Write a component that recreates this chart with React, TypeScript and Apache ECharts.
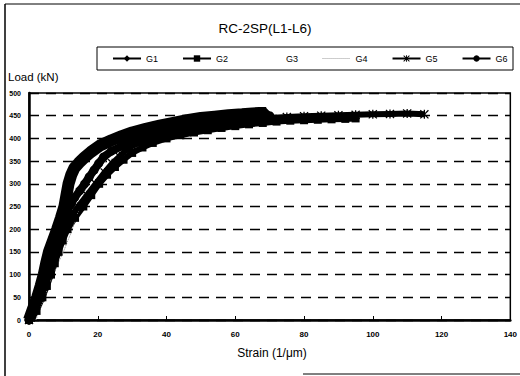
import React, { useEffect, useRef } from "react";
import * as echarts from "echarts";

const title = "RC-2SP(L1-L6)";
const yAxisName = "Load (kN)";
const xAxisName = "Strain (1/\u03bcm)";

// [strain, load]
const g1: number[][] = [
  [0, 0], [1.2, 25], [2.4, 50], [3.4, 75], [4.3, 100], [5, 125], [5.8, 150], [7, 175], [8.2, 200],
  [9.3, 225], [10.3, 250], [10.9, 275], [11.5, 300], [12.3, 320], [13.2, 335], [14.5, 346], [16, 357],
  [18, 370], [20.8, 385], [24, 396], [27, 405], [30, 413], [34, 421], [38, 428], [42, 434], [46, 440],
  [50, 445], [54, 448], [58, 451], [62, 453], [65, 455], [67, 456], [69, 456],
];
const g2: number[][] = [
  [0, 0], [2.2, 20], [3.9, 50], [5.2, 75], [6.4, 100], [7.5, 125], [8.6, 150], [9.8, 175], [11.2, 200],
  [13.4, 225], [15.8, 250], [18.1, 275], [20.4, 300], [22.7, 320], [25, 337], [27.5, 353], [30, 368],
  [33, 380], [36, 390], [40, 400], [44, 407], [48, 413], [52, 418], [56, 423], [60, 427], [64, 431],
  [68, 434], [72, 437], [76, 439], [80, 440], [84, 441], [88, 442], [92, 443], [95, 444],
];
const g3: number[][] = [
  [0, 0], [2.2, 40], [4, 80], [6, 125], [8, 170], [10, 210], [12, 236], [13.5, 255], [15, 275],
  [16.5, 295], [18, 312], [19.5, 328], [21, 343], [22.8, 359], [25, 372], [28, 385], [32, 398],
  [36, 408], [40, 416], [45, 424], [50, 430], [55, 436], [60, 440], [65, 444], [70, 447],
];
const g4: number[][] = [
  [2, 0], [3.5, 30], [5, 60], [6.6, 92], [8.3, 122], [10, 150], [11.3, 175], [12.4, 195], [13.7, 225],
  [15, 255], [16.3, 285], [17.6, 305], [19.2, 322], [21, 340], [22.8, 357], [25, 370], [28, 382],
  [32, 394], [36, 403], [40, 411], [45, 419], [50, 425], [55, 430], [60, 434], [65, 437], [70, 440],
];
const g5: number[][] = [
  [0, 0], [1.8, 25], [3.4, 50], [4.5, 75], [5.6, 100], [6.7, 125], [7.8, 150], [8.9, 175], [9.9, 200],
  [11.6, 225], [13, 236], [14.3, 250], [16.9, 275], [19.4, 300], [22, 325], [24.2, 345], [26.3, 360],
  [28, 372], [30, 383], [34, 396], [38, 405], [42, 412], [46, 418], [50, 423], [55, 429], [60, 435],
  [65, 440], [70, 445], [75, 447], [80, 449], [85, 450], [90, 451], [95, 452], [100, 453], [105, 454],
  [110, 455], [115, 453],
];
const g6: number[][] = [
  [0, 0], [1.8, 25], [3.2, 50], [4.2, 75], [5.2, 100], [6.1, 125], [7, 150], [8, 175], [9, 200],
  [10.1, 220], [11.1, 240], [12.2, 255], [13.3, 270], [14.8, 285], [16.2, 300], [17.5, 315], [18.9, 330],
  [20.3, 345], [21.7, 359], [24, 372], [27, 383], [30, 393], [34, 404], [38, 413], [42, 420], [46, 426],
  [50, 432], [55, 438], [60, 443], [65, 447], [70, 450],
];

const xTicks = { min: 0, max: 140, interval: 20 };
const yTicks = { min: 0, max: 500, interval: 50 };

const asterisk =
  "path://M0,1 L1,0 L5,4 L9,0 L10,1 L6,5 L10,9 L9,10 L5,6 L1,10 L0,9 L4,5 Z M4.3,0 L5.7,0 L5.7,10 L4.3,10 Z";

const FONT = "Liberation Sans, Arial, sans-serif";

export default function App() {
  const ref = useRef<HTMLDivElement>(null);
  useEffect(() => {
    if (!ref.current) return;
    const chart = echarts.init(ref.current, undefined, { renderer: "svg" });
    const mk = (name: string, data: number[][], lw: number, symbol: string, size: number, color = "#000", type: any = "solid") => ({
      name,
      type: "line",
      data,
      symbol,
      symbolSize: size,
      showSymbol: symbol !== "none",
      showAllSymbol: true,
      lineStyle: { color, width: lw, type },
      itemStyle: { color, borderWidth: 0 },
      emphasis: { disabled: true },
      silent: true,
      z: 3,
    });
    chart.setOption({
      animation: false,
      backgroundColor: "#fff",
      textStyle: { fontFamily: FONT },
      grid: { left: 29, right: 6, top: 93, bottom: 56, show: true, borderColor: "#000", borderWidth: 1.5, backgroundColor: "transparent" },
      legend: {
        data: [
          "G1",
          "G2",
          { name: "G3", itemStyle: { opacity: 0 }, lineStyle: { opacity: 0 } },
          { name: "G4", itemStyle: { opacity: 0 }, lineStyle: { width: 1, color: "#9a9a9a", type: "dotted" } },
          "G5",
          "G6",
        ],
        left: 112,
        top: 54,
        itemWidth: 28,
        itemHeight: 8,
        itemGap: 24,
        padding: 0,
        textStyle: { fontSize: 9, color: "#000", fontFamily: FONT },
        lineStyle: { width: 2 },
        selectedMode: false,
      },
      xAxis: {
        type: "value",
        ...xTicks,
        axisLine: { show: true, onZero: false, lineStyle: { color: "#000", width: 2.5 } },
        axisTick: { show: true, inside: true, length: 4, lineStyle: { color: "#000", width: 1 } },
        axisLabel: { fontSize: 8, fontWeight: "bold", color: "#000", margin: 10, fontFamily: FONT },
        splitLine: { show: false },
      },
      yAxis: {
        type: "value",
        ...yTicks,
        axisLine: { show: true, onZero: false, lineStyle: { color: "#000", width: 2.5 } },
        axisTick: { show: false },
        axisLabel: { fontSize: 7, fontWeight: "bold", color: "#000", margin: 8, fontFamily: FONT },
        splitLine: { show: true, lineStyle: { color: "#000", width: 1.3, type: [10, 7] } },
      },
      graphic: [
        { type: "line", shape: { x1: 5, y1: 4, x2: 520, y2: 4 }, style: { stroke: "#000", lineWidth: 1 } },
        { type: "line", shape: { x1: 5, y1: 4, x2: 5, y2: 376 }, style: { stroke: "#000", lineWidth: 1.5 } },
        { type: "line", shape: { x1: 303, y1: 374, x2: 520, y2: 374 }, style: { stroke: "#000", lineWidth: 1 } },
        { type: "rect", shape: { x: 97, y: 47, width: 416, height: 23 }, style: { stroke: "#000", fill: "none", lineWidth: 1 } },
        { type: "text", x: 265, y: 28, style: { text: title, fontSize: 13.5, fontFamily: FONT, fill: "#000", textAlign: "center", textVerticalAlign: "middle" } },
        { type: "text", x: 8, y: 77, style: { text: yAxisName, fontSize: 11.5, fontFamily: FONT, fill: "#000", textAlign: "left", textVerticalAlign: "middle" } },
        { type: "text", x: 272, y: 353, style: { text: xAxisName, fontSize: 12, fontFamily: FONT, fill: "#000", textAlign: "center", textVerticalAlign: "middle" } },
      ],
      series: [
        mk("G1", g1, 12, "diamond", 10),
        mk("G2", g2, 6, "rect", 8),
        mk("G3", g3, 3, "none", 0, "#ffffff"),
        mk("G4", g4, 1, "none", 0, "#8a8a8a", "dotted"),
        mk("G5", g5, 6, asterisk, 9),
        mk("G6", g6, 8, "circle", 9),
      ],
    });
    return () => chart.dispose();
  }, []);
  return <div ref={ref} style={{ width: 520, height: 376, position: "fixed", left: 0, top: 0 }} />;
}
